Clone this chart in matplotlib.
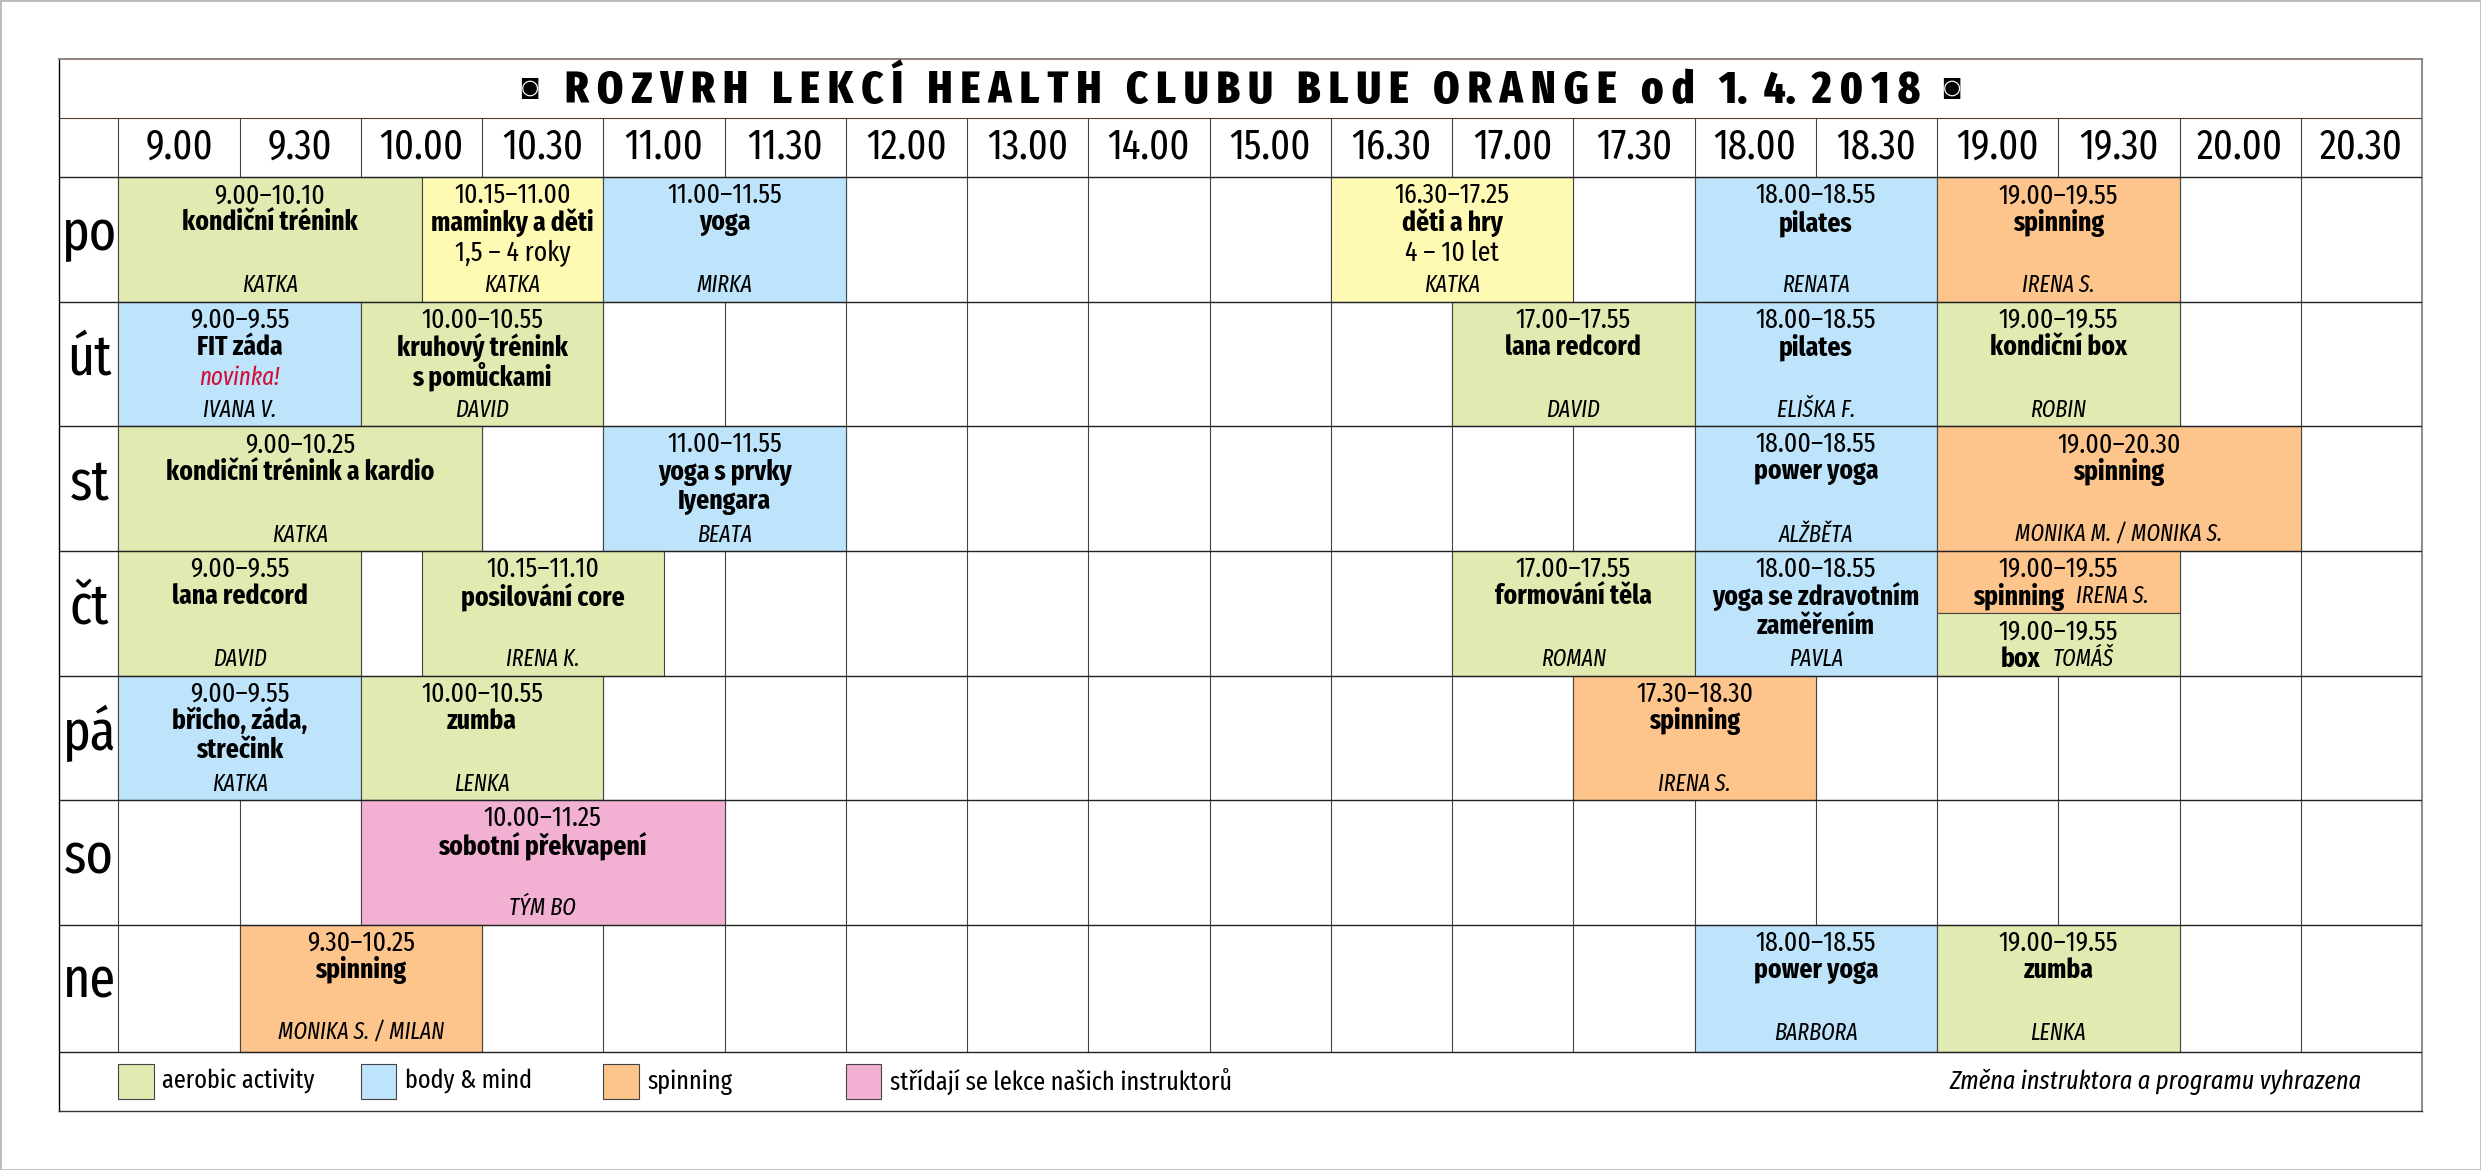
import math

import matplotlib.pyplot as plt
from matplotlib.patches import Rectangle
import numpy as np


plt.rcParams['font.family'] = ['Fira Sans Extra Condensed', 'Liberation Sans', 'DejaVu Sans']

title = 'R O Z V R H   L E K C Í   H E A L T H   C L U B U   B L U E   O R A N G E   o d   1.  4.  2 0 1 8'
days = ['po', 'út', 'st', 'čt', 'pá', 'so', 'ne']
hour_labels = ['9.00', '9.30', '10.00', '10.30', '11.00', '11.30', '12.00', '13.00', '14.00', '15.00',
               '16.30', '17.00', '17.30', '18.00', '18.30', '19.00', '19.30', '20.00', '20.30']
col_hours = [9, 9.5, 10, 10.5, 11, 11.5, 12, 13, 14, 15, 16.5, 17, 17.5, 18, 18.5, 19, 19.5, 20, 20.5, 21]

colors = {'aerobic': '#e1eab1', 'mind': '#bde4fb', 'spin': '#fdc48b', 'mix': '#f2b1d2', 'kids': '#fffab3'}
legend_kinds = ['aerobic', 'mind', 'spin', 'mix']
legend_names = ['aerobic activity', 'body & mind', 'spinning', 'střídají se lekce našich instruktorů']
legend_note = 'Změna instruktora a programu vyhrazena'

# one entry per lesson
lesson_day = [0, 0, 0, 0, 0, 0,
              1, 1, 1, 1, 1,
              2, 2, 2, 2,
              3, 3, 3, 3,
              4, 4, 4,
              5,
              6, 6, 6]
lesson_time = ['9.00–10.10', '10.15–11.00', '11.00–11.55', '16.30–17.25', '18.00–18.55', '19.00–19.55',
               '9.00–9.55', '10.00–10.55', '17.00–17.55', '18.00–18.55', '19.00–19.55',
               '9.00–10.25', '11.00–11.55', '18.00–18.55', '19.00–20.30',
               '9.00–9.55', '10.15–11.10', '17.00–17.55', '18.00–18.55',
               '9.00–9.55', '10.00–10.55', '17.30–18.30',
               '10.00–11.25',
               '9.30–10.25', '18.00–18.55', '19.00–19.55']
lesson_name = ['kondiční trénink', 'maminky a děti', 'yoga', 'děti a hry', 'pilates', 'spinning',
               'FIT záda', 'kruhový trénink\ns pomůckami', 'lana redcord', 'pilates', 'kondiční box',
               'kondiční trénink a kardio', 'yoga s prvky\nIyengara', 'power yoga', 'spinning',
               'lana redcord', 'posilování core', 'formování těla', 'yoga se zdravotním\nzaměřením',
               'břicho, záda,\nstrečink', 'zumba', 'spinning',
               'sobotní překvapení',
               'spinning', 'power yoga', 'zumba']
lesson_note = ['', '1,5 – 4 roky', '', '4 – 10 let', '', '',
               'novinka!', '', '', '', '',
               '', '', '', '',
               '', '', '', '',
               '', '', '',
               '',
               '', '', '']
lesson_coach = ['KATKA', 'KATKA', 'MIRKA', 'KATKA', 'RENATA', 'IRENA S.',
                'IVANA V.', 'DAVID', 'DAVID', 'ELIŠKA F.', 'ROBIN',
                'KATKA', 'BEATA', 'ALŽBĚTA', 'MONIKA M. / MONIKA S.',
                'DAVID', 'IRENA K.', 'ROMAN', 'PAVLA',
                'KATKA', 'LENKA', 'IRENA S.',
                'TÝM BO',
                'MONIKA S. / MILAN', 'BARBORA', 'LENKA']
lesson_kind = ['aerobic', 'kids', 'mind', 'kids', 'mind', 'spin',
               'mind', 'aerobic', 'aerobic', 'mind', 'aerobic',
               'aerobic', 'mind', 'mind', 'spin',
               'aerobic', 'aerobic', 'aerobic', 'mind',
               'mind', 'aerobic', 'spin',
               'mix',
               'spin', 'mind', 'aerobic']

# the two lessons sharing one cell on thursday
split_time = ['19.00–19.55', '19.00–19.55']
split_name = ['spinning', 'box']
split_coach = ['IRENA S.', 'TOMÁŠ']
split_kind = ['spin', 'aerobic']


# lessons are drawn up to the next quarter of an hour
def slot(t):
    hour, minute = t.split('.')
    hour = int(hour) + math.ceil(int(minute) / 15) / 4
    return np.interp(hour, col_hours, np.arange(len(col_hours)))


fig = plt.figure(figsize=(24.81, 11.7), dpi=100)
fig.add_artist(Rectangle((0, 0), 1, 1, transform=fig.transFigure, fill=False, edgecolor='#bbbbbb', lw=2))
ax1 = fig.add_axes([59 / 2481, 1 - 1111 / 1170, (2422 - 59) / 2481, (1111 - 59) / 1170])
ax1.set_xlim(-0.49, 19)
ax1.set_ylim(7.494, -0.9494)
ax1.set_xticks([])
ax1.set_yticks([])
for spine in ax1.spines.values():
    spine.set_linewidth(1.0)
    spine.set_color('#333333')
ax1.spines['top'].set_color('#8a7a70')
ax1.spines['top'].set_linewidth(1.3)
ax1.spines['left'].set_color('#000000')
ax1.spines['right'].set_color('#8f8f8f')
ax1.spines['right'].set_linewidth(1.5)

# grid, the last row is a little higher
row_lines = [0, 1, 2, 3, 4, 5, 6, 7.02]
ax1.hlines(row_lines, -0.49, 19, color='#222222', lw=1.0, zorder=3)
ax1.hlines(-0.476, -0.49, 19, color='#5a3a30', lw=0.8, zorder=3)
ax1.vlines(np.arange(0, 19), -0.476, 7.02, color='#444444', lw=0.8, zorder=1)

# header
ax1.text(9.27, -0.695, title, ha='center', va='center', fontsize=32.8, fontweight='heavy')
ax1.text(3.39, -0.71, '◙', ha='center', va='center', fontsize=15, family='DejaVu Sans')
ax1.text(15.12, -0.71, '◙', ha='center', va='center', fontsize=15, family='DejaVu Sans')
for i, label in enumerate(hour_labels):
    ax1.text(i + 0.5, -0.24, label, ha='center', va='center', fontsize=30)
for i, day in enumerate(days):
    ax1.text(-0.24, i + 0.46, day, ha='center', va='center', fontsize=41)

# lessons
for i in range(len(lesson_day)):
    start, end = lesson_time[i].split('–')
    x0 = slot(start)
    x1 = slot(end)
    xc = (x0 + x1) / 2
    y = lesson_day[i]
    h = row_lines[y + 1] - y
    ax1.add_patch(Rectangle((x0, y), x1 - x0, h, facecolor=colors[lesson_kind[i]], edgecolor='#444444', lw=0.8, zorder=2))
    ax1.text(xc, y + 0.145, lesson_time[i], ha='center', va='center', fontsize=20, zorder=4)
    for j, line in enumerate(lesson_name[i].split('\n')):
        ax1.text(xc, y + 0.365 + j * 0.235, line, ha='center', va='center', fontsize=20, fontweight='bold', zorder=4)
    if lesson_note[i] == 'novinka!':
        ax1.text(xc, y + 0.61, lesson_note[i], ha='center', va='center', fontsize=18, style='italic', color='#d0103a', zorder=4)
    elif lesson_note[i] != '':
        ax1.text(xc, y + 0.61, lesson_note[i], ha='center', va='center', fontsize=20, zorder=4)
    ax1.text(xc, y + 0.87, lesson_coach[i], ha='center', va='center', fontsize=17, style='italic', zorder=4)

for i in range(2):
    start, end = split_time[i].split('–')
    x0 = slot(start)
    x1 = slot(end)
    xc = (x0 + x1) / 2
    y = 3 + i * 0.5
    shift = 0.1 - i * 0.2
    ax1.add_patch(Rectangle((x0, y), x1 - x0, 0.5, facecolor=colors[split_kind[i]], edgecolor='#444444', lw=0.8, zorder=2))
    ax1.text(xc, y + 0.145, split_time[i], ha='center', va='center', fontsize=20, zorder=4)
    ax1.text(xc + shift - 0.05, y + 0.365, split_name[i], ha='right', va='center', fontsize=20, fontweight='bold', zorder=4)
    ax1.text(xc + shift + 0.05, y + 0.365, split_coach[i], ha='left', va='center', fontsize=17, style='italic', zorder=4)

# legend row
for i in range(len(legend_kinds)):
    ax1.add_patch(Rectangle((2 * i, 7.116), 0.29, 0.281, facecolor=colors[legend_kinds[i]], edgecolor='#444444', lw=0.8, zorder=2))
    ax1.text(2 * i + 0.36, 7.26, legend_names[i], ha='left', va='center', fontsize=19)
ax1.text(18.5, 7.26, legend_note, ha='right', va='center', fontsize=19, style='italic')

plt.savefig('out.png', dpi=100)
